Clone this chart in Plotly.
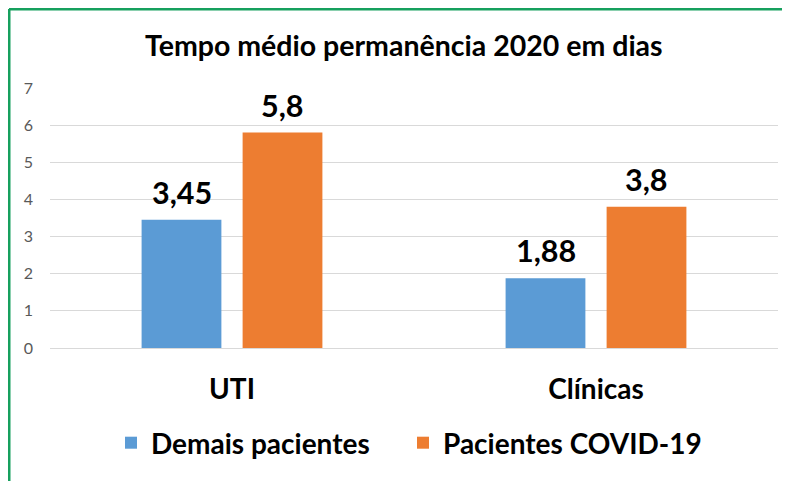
import plotly.graph_objects as go

categories = ["UTI", "Clínicas"]
series_names = ["Demais pacientes", "Pacientes COVID-19"]
demais = [3.45, 1.88]
covid = [5.8, 3.8]
value_labels_demais = ["3,45", "1,88"]
value_labels_covid = ["5,8", "3,8"]
y_ticks = [0, 1, 2, 3, 4, 5, 6, 7]

FONT = "Lato"
OFF = 8  # page body margin offset
W, H = 790 - OFF, 481 - OFF
ML, MT = 50 - OFF, 88 - OFF
PW = 728
PH = 260
MR = W - ML - PW
MB = H - MT - PH

def px_x(px):
    return (px - OFF - ML) / PW

def px_y(py):
    return (MT + PH - (py - OFF)) / PH

fig = go.Figure()
fig.add_trace(go.Bar(x=categories, y=demais, name=series_names[0], legend="legend",
                     marker=dict(color="#5B9BD5", line=dict(width=0))))
fig.add_trace(go.Bar(x=categories, y=covid, name=series_names[1], legend="legend2",
                     marker=dict(color="#ED7D31", line=dict(width=0))))

annotations = []
for cat, v, t in zip(categories, demais, value_labels_demais):
    annotations.append(dict(x=cat, y=v, text=t, xshift=-50.5, yshift=8, showarrow=False,
                            yanchor="bottom", font=dict(family=FONT, size=30.5, color="black", weight="bold")))
for cat, v, t in zip(categories, covid, value_labels_covid):
    annotations.append(dict(x=cat, y=v, text=t, xshift=50.5, yshift=8, showarrow=False,
                            yanchor="bottom", font=dict(family=FONT, size=30.5, color="black", weight="bold")))

annotations.append(dict(xref="paper", yref="paper", x=px_x(404), y=px_y(45), text="Tempo médio permanência 2020 em dias",
                        showarrow=False, xanchor="center", yanchor="middle",
                        font=dict(family=FONT, size=28.5, color="black", weight="bold")))

legend_font = dict(family=FONT, size=28, color="black", weight="bold")

fig.update_layout(
    width=W, height=H,
    margin=dict(l=ML, r=MR, t=MT, b=MB, pad=0),
    paper_bgcolor="white", plot_bgcolor="white",
    barmode="group", bargap=0.445, bargroupgap=0.21,
    showlegend=True,
    legend=dict(orientation="h", xanchor="left", x=px_x(111), yanchor="middle", y=px_y(443),
                font=legend_font),
    legend2=dict(orientation="h", xanchor="left", x=px_x(403), yanchor="middle", y=px_y(443),
                 font=legend_font),
    annotations=annotations,
    shapes=[
        dict(type="line", xref="paper", yref="paper", x0=px_x(9), x1=px_x(800), y0=px_y(9), y1=px_y(9),
             line=dict(color="#17A05E", width=3)),
        dict(type="line", xref="paper", yref="paper", x0=px_x(9), x1=px_x(9), y0=px_y(9), y1=px_y(490),
             line=dict(color="#17A05E", width=3)),
    ],
    xaxis=dict(showgrid=False, showline=False, zeroline=False, ticks="",
               tickfont=dict(family=FONT, size=28, color="black", weight="bold"),
               ticklabelstandoff=22),
    yaxis=dict(range=[0, 7], tickvals=y_ticks, showgrid=True, gridcolor="#D9D9D9", gridwidth=1,
               zeroline=True, zerolinecolor="#D9D9D9", zerolinewidth=1, showline=False, ticks="",
               tickfont=dict(family=FONT, size=16, color="#595959"), ticklabelstandoff=16),
)

fig.write_html("out.html")
